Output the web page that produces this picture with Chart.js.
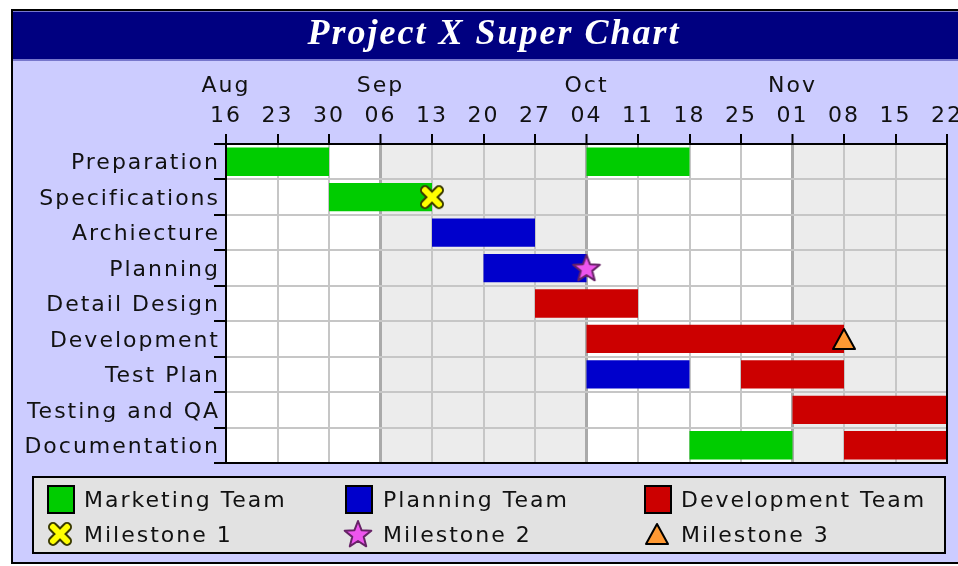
<!DOCTYPE html>
<html><head><meta charset="utf-8">
<script src="https://cdn.jsdelivr.net/npm/chart.js@4"></script>
<style>html,body{margin:0;padding:0;background:#fff;overflow:hidden}canvas{display:block}</style>
</head><body>
<canvas id="c" width="958" height="566"></canvas>
<script>
// ---------- data ----------
const categories = ['Preparation','Specifications','Archiecture','Planning','Detail Design','Development','Test Plan','Testing and QA','Documentation'];
const weekDates = ['08-16','08-23','08-30','09-06','09-13','09-20','09-27','10-04','10-11','10-18','10-25','11-01','11-08','11-15','11-22'];
const dayLabels = ['16','23','30','06','13','20','27','04','11','18','25','01','08','15','22'];
const monthNames = ['Aug','Sep','Oct','Nov'];
const monthTickIndex = [0,3,7,11];

const marketingTeam   = [['08-16','08-30'],['08-30','09-13'],null,null,null,null,null,null,['10-18','11-01']];
const marketingTeam2  = [['10-04','10-18'],null,null,null,null,null,null,null,null];
const planningTeam    = [null,null,['09-13','09-27'],['09-20','10-04'],null,null,['10-04','10-18'],null,null];
const developmentTeam = [null,null,null,null,['09-27','10-11'],['10-04','11-08'],['10-25','11-08'],['11-01','11-22'],['11-08','11-22']];

const milestone1 = [{task:'Specifications', date:'09-13'}];
const milestone2 = [{task:'Planning', date:'10-04'}];
const milestone3 = [{task:'Development', date:'11-08'}];

// ---------- helpers ----------
function dayOf(s){ const [m,d]=s.split('-').map(Number); return Math.round((Date.UTC(2001,m-1,d)-Date.UTC(2001,7,16))/86400000); }
const toBars = arr => arr.map(v => v ? [dayOf(v[0]), dayOf(v[1])] : null);
const toPts = arr => arr.map(p => ({x: dayOf(p.date), y: p.task}));
const isMonthTick = i => monthTickIndex.indexOf(i) > 0;

function makeX(){
  const c=document.createElement('canvas'); c.width=26; c.height=26; const g=c.getContext('2d');
  g.lineCap='round';
  g.beginPath(); g.moveTo(6,6); g.lineTo(20,20); g.moveTo(20,6); g.lineTo(6,20);
  g.strokeStyle='#3a3a00'; g.lineWidth=10; g.stroke();
  g.strokeStyle='#ffff00'; g.lineWidth=6; g.stroke();
  return c;
}
function makeStar(){
  const c=document.createElement('canvas'); c.width=32; c.height=32; const g=c.getContext('2d');
  g.beginPath();
  for(let i=0;i<10;i++){ const r = i%2===0 ? 14 : 6; const a = -Math.PI/2 + i*Math.PI/5; const px=16+r*Math.cos(a), py=17+r*Math.sin(a); if(i===0) g.moveTo(px,py); else g.lineTo(px,py); }
  g.closePath(); g.fillStyle='#ee55ee'; g.fill(); g.lineWidth=2; g.strokeStyle='#662266'; g.lineJoin='round'; g.stroke();
  return c;
}
function makeTri(){
  const c=document.createElement('canvas'); c.width=26; c.height=24; const g=c.getContext('2d');
  g.beginPath(); g.moveTo(13,2); g.lineTo(24,22); g.lineTo(2,22); g.closePath();
  g.fillStyle='#ff9933'; g.fill(); g.lineWidth=2; g.lineJoin='round'; g.strokeStyle='#000'; g.stroke();
  return c;
}
const imgX = makeX(), imgStar = makeStar(), imgTri = makeTri();

const COL_MKT = '#00cc00', COL_PLN = '#0000cc', COL_DEV = '#cc0000';
const LABEL_FONT = {family:'"DejaVu Sans"', size:22};

// ---------- plugins ----------
const framePlugin = {
  id:'frame',
  beforeDraw(chart){
    const ctx = chart.ctx, a = chart.chartArea, x = chart.scales.x;
    ctx.save();
    ctx.fillStyle='#fff'; ctx.fillRect(0,0,958,566);
    ctx.fillStyle='#000'; ctx.fillRect(11,9,958-11,555);
    ctx.fillStyle='#ccccff'; ctx.fillRect(13,11,958-13,551);
    ctx.fillStyle='#7777cc'; ctx.fillRect(13,11,958-13,50);
    ctx.fillStyle='#000080'; ctx.fillRect(13,12,958-13,47);
    // plot background with alternating month bands
    ctx.fillStyle='#fff'; ctx.fillRect(a.left,a.top,a.right-a.left,a.bottom-a.top);
    const bounds = monthTickIndex.map(i => dayOf(weekDates[i])).concat([dayOf(weekDates[weekDates.length-1])]);
    ctx.fillStyle='#ececec';
    for(let i=1;i<bounds.length-1;i+=2){
      const x0 = x.getPixelForValue(bounds[i]), x1 = x.getPixelForValue(bounds[i+1]);
      ctx.fillRect(x0,a.top,x1-x0,a.bottom-a.top);
    }
    ctx.restore();
    ctx.letterSpacing='2px';
  },
  afterDraw(chart){
    const ctx = chart.ctx, a = chart.chartArea;
    ctx.save();
    ctx.fillStyle='#000';
    ctx.fillRect(a.right-1,a.top-1,2,a.bottom-a.top+2);
    ctx.fillRect(a.left-12,a.bottom-1,a.right-a.left+13,2);
    // legend
    ctx.fillStyle='#e2e2e2'; ctx.fillRect(33,477,912,76);
    ctx.lineWidth=2; ctx.strokeStyle='#000'; ctx.strokeRect(33,477,912,76);
    ctx.letterSpacing='2px';
    ctx.font='22px "DejaVu Sans"'; ctx.textBaseline='middle'; ctx.textAlign='left';
    const colBox=[47,345,644], colText=[84,383,681], rowY=[499,534];
    const items = chart.data.datasets.filter(d => d.legendItem);
    items.sort((p,q)=>p.legendItem-q.legendItem);
    items.forEach((d,k)=>{
      const r = Math.floor(k/3), col = k%3;
      const cy = rowY[r];
      if(d.type==='line'){
        const im = d.pointStyle; ctx.drawImage(im, colBox[col]+13-im.width/2, cy-im.height/2);
      } else {
        ctx.fillStyle=d.backgroundColor; ctx.fillRect(colBox[col]+1,cy-13,26,27);
        ctx.lineWidth=2; ctx.strokeStyle='#000'; ctx.strokeRect(colBox[col]+1,cy-13,26,27);
      }
      ctx.fillStyle='#111'; ctx.fillText(d.label, colText[col], cy+2);
    });
    ctx.restore();
  }
};

// ---------- chart ----------
const milestoneBase = {type:'line', showLine:false, order:0, xAxisID:'x', yAxisID:'y', pointRadius:5};
new Chart(document.getElementById('c').getContext('2d'), {
  type:'bar',
  data:{
    labels: categories,
    datasets:[
      Object.assign({label:'Milestone 1', data: toPts(milestone1), pointStyle: imgX, legendItem:4}, milestoneBase),
      Object.assign({label:'Milestone 2', data: toPts(milestone2), pointStyle: imgStar, legendItem:5}, milestoneBase),
      Object.assign({label:'Milestone 3', data: toPts(milestone3), pointStyle: imgTri, legendItem:6}, milestoneBase),
      {label:'Marketing Team', data: toBars(marketingTeam), backgroundColor: COL_MKT, grouped:false, order:1, legendItem:1},
      {label:'Marketing Team', data: toBars(marketingTeam2), backgroundColor: COL_MKT, grouped:false, order:1},
      {label:'Planning Team', data: toBars(planningTeam), backgroundColor: COL_PLN, grouped:false, order:1, legendItem:2},
      {label:'Development Team', data: toBars(developmentTeam), backgroundColor: COL_DEV, grouped:false, order:1, legendItem:3}
    ]
  },
  options:{
    responsive:false, animation:false, devicePixelRatio:1, indexAxis:'y',
    layout:{padding:{left:14,right:-16,top:11,bottom:103}},
    datasets:{bar:{barPercentage:0.8, categoryPercentage:1}},
    plugins:{
      legend:{display:false}, tooltip:{enabled:false},
      title:{display:true, text:'Project X Super Chart', color:'#fff',
        font:{family:'"Liberation Serif"', size:36, style:'italic', weight:'bold', lineHeight:'40px'},
        padding:{top:4,bottom:5}}
    },
    scales:{
      x:{type:'linear', position:'top', min:0, max:98,
        afterBuildTicks: s => { s.ticks = weekDates.map(d => ({value: dayOf(d)})); },
        afterFit: s => { s.height = 84; s.paddingLeft = 0; s.paddingRight = 0; },
        ticks:{autoSkip:false, maxRotation:0, minRotation:0, padding:3, color:'#111',
          font:{family:'"DejaVu Sans"', size:22, lineHeight:'30px'},
          callback:(v,i)=>{ const mi = monthTickIndex.indexOf(i); return [mi>=0?monthNames[mi]:'', dayLabels[i]]; }},
        grid:{color: c => isMonthTick(c.index) ? '#aaaaaa' : '#c6c6c6', lineWidth: c => isMonthTick(c.index) ? 3 : 2,
          tickColor:'#000', tickLength:10, tickWidth:2},
        border:{color:'#000', width:2}
      },
      y:{type:'category', position:'left',
        afterFit: s => { s.width = 212; s.paddingTop = 0; s.paddingBottom = 0; },
        ticks:{padding:-6, labelOffset:2, color:'#111', font:LABEL_FONT},
        grid:{offset:true, color:'#c6c6c6', lineWidth:2, tickColor:'#000', tickLength:12, tickWidth:2},
        border:{color:'#000', width:2}
      },
      yRight:{type:'category', position:'right', display:true,
        afterFit: s => { s.width = 27; },
        ticks:{display:false}, grid:{display:false}, border:{display:false}
      }
    }
  },
  plugins:[framePlugin]
});
</script>
</body></html>
